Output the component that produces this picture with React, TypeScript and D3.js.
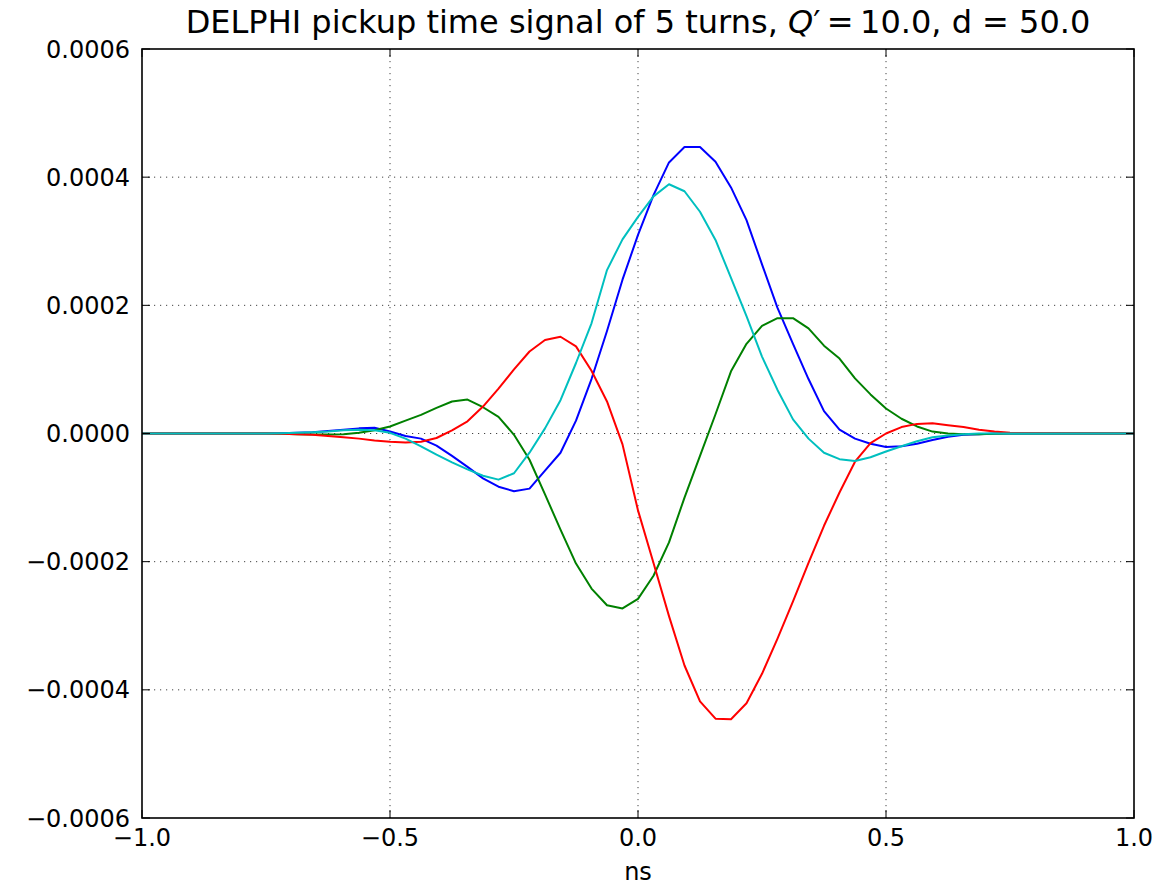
import React, { useRef, useEffect } from "react";
import * as d3 from "d3";

// sample times in ns (tails outside +-0.75 are flat zero)
const timeNs = [
  -1, -0.75, -0.71875, -0.6875, -0.65625, -0.625, -0.59375, -0.5625, -0.53125, -0.5,
  -0.46875, -0.4375, -0.40625, -0.375, -0.34375, -0.3125, -0.28125, -0.25, -0.21875,
  -0.1875, -0.15625, -0.125, -0.09375, -0.0625, -0.03125, 0, 0.03125, 0.0625, 0.09375,
  0.125, 0.15625, 0.1875, 0.21875, 0.25, 0.28125, 0.3125, 0.34375, 0.375, 0.40625,
  0.4375, 0.46875, 0.5, 0.53125, 0.5625, 0.59375, 0.625, 0.65625, 0.6875, 0.71875, 0.75, 1,
];

// signal values, in units of 1e-6
const turnBlue = [
  0, 0, 0.5, 1, 2, 4, 6, 8, 9, 3, -4, -8, -19, -35, -52, -70, -83, -90, -86, -58, -30, 20,
  85, 160, 240, 310, 372, 423, 447, 447, 424, 384, 333, 264, 196, 140, 85, 35, 6, -8, -16,
  -21, -20, -16, -10, -5, -2, -1, 0, 0, 0,
];
const turnGreen = [
  0, 0, -0.5, -1, -1.5, -1.5, -1, 1, 5, 11, 20, 29, 40, 50, 53, 41, 26, -2, -41, -95, -150,
  -203, -242, -268, -273, -258, -222, -170, -100, -35, 30, 97, 140, 168, 180, 180, 164, 137,
  117, 86, 61, 39, 23, 11, 3, 0, -1, -1, -0.5, 0, 0,
];
const turnRed = [
  0, 0, -0.5, -1, -2, -4, -6, -8, -11, -13, -14, -13, -7, 5, 19, 42, 70, 100, 128, 146, 151,
  136, 98, 50, -17, -120, -202, -285, -362, -418, -445, -446, -421, -375, -320, -262, -202,
  -144, -92, -44, -15, 0, 10, 15, 16, 13, 10, 6, 3, 1, 0,
];
const turnCyan = [
  0, 0, 0.5, 1, 2, 3, 5, 6, 5, 1, -8, -20, -33, -45, -56, -66, -72, -62, -30, 8, 52, 110,
  172, 255, 303, 338, 370, 389, 378, 346, 302, 243, 183, 120, 68, 22, -8, -30, -40, -43, -37,
  -28, -20, -12, -6, -3, -1, 0, 0, 0, 0,
];

const seriesList = [
  { name: "turn 1", color: "#0000ff", values: turnBlue },
  { name: "turn 2", color: "#008000", values: turnGreen },
  { name: "turn 3", color: "#ff0000", values: turnRed },
  { name: "turn 4", color: "#00bfbf", values: turnCyan },
];

const xTicks = [-1, -0.5, 0, 0.5, 1];
const xTickLabels = ["\u22121.0", "\u22120.5", "0.0", "0.5", "1.0"];
const yTicks = [-0.0006, -0.0004, -0.0002, 0, 0.0002, 0.0004, 0.0006];
const yTickLabels = ["\u22120.0006", "\u22120.0004", "\u22120.0002", "0.0000", "0.0002", "0.0004", "0.0006"];

const W = 1166;
const H = 886;
const margin = { top: 49, right: 32, bottom: 68, left: 142 };
const font = "'DejaVu Sans', sans-serif";

const App = () => {
  const svgRef = useRef<SVGSVGElement>(null);

  useEffect(() => {
    const svg = d3.select(svgRef.current);
    svg.selectAll("*").remove();

    const x0 = margin.left,
      x1 = W - margin.right,
      y0 = margin.top,
      y1 = H - margin.bottom;

    const x = d3.scaleLinear().domain([-1, 1]).range([x0, x1]);
    const y = d3.scaleLinear().domain([-0.0006, 0.0006]).range([y1, y0]);

    svg.append("rect").attr("width", W).attr("height", H).attr("fill", "#fff");

    // dotted grid
    const grid = svg.append("g").attr("stroke", "#444").attr("stroke-width", 1).attr("stroke-dasharray", "1.2,4.8");
    xTicks.slice(1, -1).forEach((t) => {
      grid.append("line").attr("x1", x(t)).attr("x2", x(t)).attr("y1", y0).attr("y2", y1);
    });
    yTicks.slice(1, -1).forEach((t) => {
      grid.append("line").attr("x1", x0).attr("x2", x1).attr("y1", y(t)).attr("y2", y(t));
    });

    // curves
    svg.append("clipPath").attr("id", "plotClip")
      .append("rect").attr("x", x0).attr("y", y0).attr("width", x1 - x0).attr("height", y1 - y0);

    const line = d3
      .line<number>()
      .x((_, i) => x(timeNs[i]))
      .y((v) => y(v * 1e-6));

    const curves = svg.append("g").attr("clip-path", "url(#plotClip)");
    seriesList.forEach((s) => {
      curves
        .append("path")
        .attr("d", line(s.values))
        .attr("fill", "none")
        .attr("stroke", s.color)
        .attr("stroke-width", 2)
        .attr("stroke-linejoin", "round");
    });

    // inward ticks on all four sides
    const ticks = svg.append("g").attr("stroke", "#000").attr("stroke-width", 1);
    xTicks.forEach((t) => {
      ticks.append("line").attr("x1", x(t)).attr("x2", x(t)).attr("y1", y1).attr("y2", y1 - 8);
      ticks.append("line").attr("x1", x(t)).attr("x2", x(t)).attr("y1", y0).attr("y2", y0 + 8);
    });
    yTicks.forEach((t) => {
      ticks.append("line").attr("x1", x0).attr("x2", x0 + 8).attr("y1", y(t)).attr("y2", y(t));
      ticks.append("line").attr("x1", x1).attr("x2", x1 - 8).attr("y1", y(t)).attr("y2", y(t));
    });

    // frame
    svg.append("rect")
      .attr("x", x0).attr("y", y0).attr("width", x1 - x0).attr("height", y1 - y0)
      .attr("fill", "none").attr("stroke", "#000").attr("stroke-width", 1.6);

    // tick labels
    const labels = svg.append("g").attr("font-family", font).attr("font-size", 24).attr("fill", "#000");
    xTicks.forEach((t, i) => {
      labels.append("text").attr("x", x(t)).attr("y", y1 + 28).attr("text-anchor", "middle").text(xTickLabels[i]);
    });
    yTicks.forEach((t, i) => {
      labels.append("text").attr("x", x0 - 12).attr("y", y(t) + 8.5).attr("text-anchor", "end").text(yTickLabels[i]);
    });

    // axis label
    svg.append("text")
      .attr("x", (x0 + x1) / 2).attr("y", 880)
      .attr("text-anchor", "middle").attr("font-family", font).attr("font-size", 24)
      .text("ns");

    // title
    const title = svg.append("text")
      .attr("x", (x0 + x1) / 2).attr("y", 33)
      .attr("text-anchor", "middle").attr("font-family", font).attr("font-size", 32);
    title.append("tspan").text("DELPHI pickup time signal of 5 turns, ");
    title.append("tspan").attr("font-style", "italic").text("Q");
    title.append("tspan").text("\u2032\u2009=\u200910.0, d = 50.0");
  }, []);

  return (
    <svg
      ref={svgRef}
      width={W}
      height={H}
      style={{ position: "absolute", left: 0, top: 0 }}
    />
  );
};

export default App;
